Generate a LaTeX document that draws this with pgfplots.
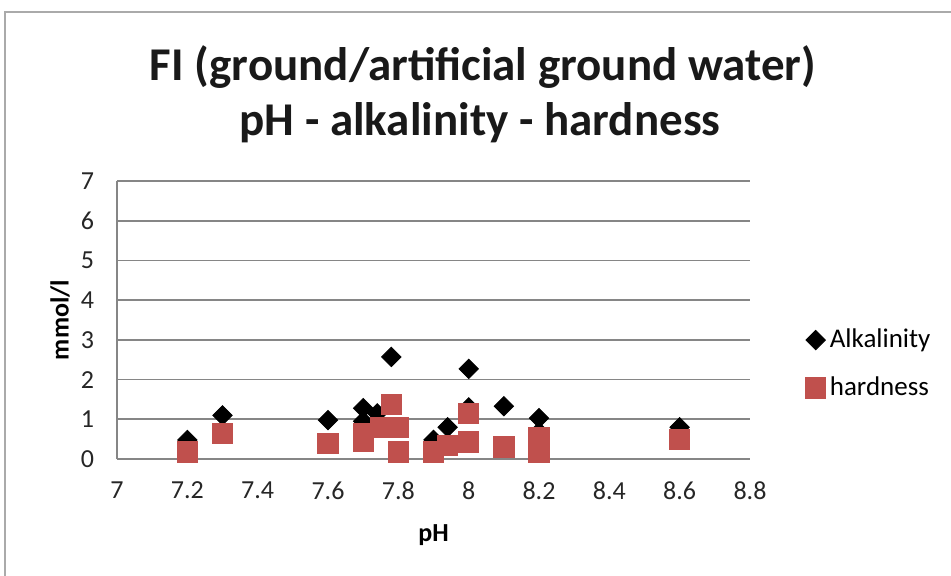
\documentclass[border=0pt]{standalone}
\usepackage{pgfplots}
\pgfplotsset{compat=1.18}
\usepackage{fontspec}
\setmainfont{Carlito}
\definecolor{hard}{RGB}{192,80,77}
\definecolor{gridg}{RGB}{134,134,134}
\begin{document}
\begin{tikzpicture}
\useasboundingbox (-58.5bp,-58.5bp) rectangle (417bp,229.5bp);
\draw[gridg!70, line width=1bp] (-56bp,-70bp) -- (-56bp,223.5bp) -- (430bp,223.5bp);
\begin{axis}[
  name=ax,
  scale only axis,
  width=316.5bp, height=139bp,
  xmin=7, xmax=8.8, ymin=0, ymax=7,
  xtick={7,7.2,...,8.8},
  xticklabels={7,7.2,7.4,7.6,7.8,8,8.2,8.4,8.6,8.8},
  ytick={0,1,...,7},
  axis x line=bottom, axis y line=left,
  axis line style={-, gridg, line width=0.8bp},
  major tick length=0pt,
  ymajorgrids, grid style={gridg, line width=0.8bp},
  /pgf/number format/assume math mode=true,
  ticklabel style={font=\fontsize{13bp}{15bp}\selectfont, text=black!85},
  xticklabel style={yshift=-8bp},
  yticklabel style={xshift=-8bp},
  xlabel={\textbf{pH}}, ylabel={\textbf{mmol/l}},
  label style={font=\fontsize{13bp}{15bp}\selectfont},
  xlabel style={at={(0.5,0)}, anchor=center, yshift=-38bp},
  ylabel style={at={(-0.09,0.5)}, anchor=center},
  clip=false,
  legend style={at={(1.087,0.342)}, anchor=west, draw=none, fill=none,
    font=\fontsize{13.5bp}{15bp}\selectfont, row sep=9bp,
    cells={anchor=west}, inner sep=0pt},
  legend image code/.code={\draw[mark repeat=2,mark phase=2,#1] plot coordinates {(0cm,0cm) (0.12cm,0cm) (0.18cm,0cm)};},
]
\addplot[only marks, mark=square*, mark size=3.43bp, mark options={rotate=45, fill=black, draw=black}]
coordinates {(7.2,0.48)(7.3,1.1)(7.6,0.98)(7.7,1.28)(7.7,0.95)(7.74,1.15)(7.78,2.57)(7.9,0.48)(7.94,0.8)(8.0,2.27)(8.0,1.3)(8.1,1.33)(8.2,1.03)(8.2,0.68)(8.6,0.8)};
\addlegendentry{Alkalinity}
\addplot[only marks, mark=square*, mark size=5.1bp, mark options={fill=hard, draw=hard}]
coordinates {(7.2,0.18)(7.3,0.65)(7.6,0.4)(7.7,0.65)(7.7,0.45)(7.75,0.8)(7.78,1.38)(7.8,0.8)(7.8,0.18)(7.9,0.18)(7.94,0.35)(8.0,1.15)(8.0,0.43)(8.1,0.3)(8.2,0.53)(8.2,0.18)(8.6,0.5)};
\addlegendentry{hardness}
\end{axis}
\node[anchor=base, font=\fontsize{23.5bp}{28bp}\selectfont\bfseries, text=black!90] at (183bp,189bp) {FI (ground/artificial ground water)};
\node[anchor=base, font=\fontsize{23.5bp}{28bp}\selectfont\bfseries, text=black!90] at (181.5bp,161.5bp) {pH - alkalinity - hardness};
\end{tikzpicture}
\end{document}
